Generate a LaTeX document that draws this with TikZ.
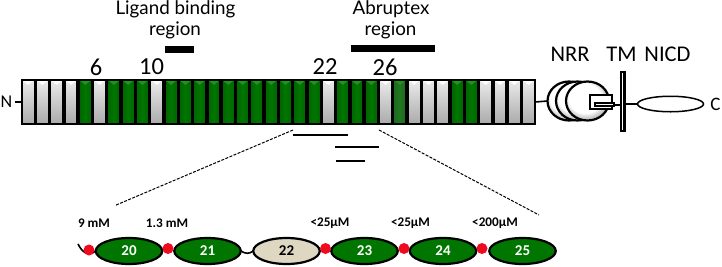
\documentclass[tikz,border=0pt]{standalone}
\usepackage{fontspec}
\setmainfont{Carlito}
\newfontfamily\handfont{Lato}
\usetikzlibrary{shapes.geometric}
\definecolor{egfgreen}{RGB}{0,118,0}
\definecolor{egfdeep}{RGB}{0,100,0}
\definecolor{egflight}{RGB}{30,150,30}
\definecolor{fadegreen}{RGB}{30,105,30}
\definecolor{palegrey}{RGB}{235,235,235}
\definecolor{midgrey}{RGB}{170,170,170}
\definecolor{domainbeige}{RGB}{222,216,195}
\definecolor{caredot}{RGB}{240,10,30}
\pgfdeclareradialshading{lnrshade}{\pgfpoint{-5bp}{6bp}}{color(0bp)=(white); color(19bp)=(white); color(25bp)=(gray!45); color(50bp)=(gray!70)}
\tikzset{
  repeatbar/.style={draw=black,line width=1.7pt,minimum width=12.6pt,minimum height=44.3pt,inner sep=0pt,outer sep=0pt},
  greenbar/.style={repeatbar,left color=egfdeep,right color=egfdeep,middle color=egfgreen,
    path picture={\fill[egflight] (path picture bounding box.north west) -- (path picture bounding box.north east) -- ([yshift=-5pt]path picture bounding box.north) -- cycle;}},
  fadebar/.style={repeatbar,left color=fadegreen,right color=fadegreen,middle color=egfgreen!75!gray,
    path picture={\fill[egflight] (path picture bounding box.north west) -- (path picture bounding box.north east) -- ([yshift=-5pt]path picture bounding box.north) -- cycle;}},
  greybar/.style={repeatbar,top color=palegrey,bottom color=midgrey,
    path picture={\fill[white] (path picture bounding box.north west) -- (path picture bounding box.north east) -- ([yshift=-5pt]path picture bounding box.north) -- cycle;}},
  hand/.style={font=\handfont\fontsize{18.8}{20}\selectfont,inner sep=0pt},
  repeatno/.style={font=\fontsize{24.5}{26}\selectfont,inner sep=0pt},
  domainname/.style={font=\fontsize{22.5}{24}\selectfont,inner sep=0pt},
  conc/.style={font=\bfseries\fontsize{13.2}{15}\selectfont,inner sep=0pt},
  regionbar/.style={fill=black,draw=none,inner sep=0pt,outer sep=0pt},
  repeatoval/.style={ellipse,draw=black,line width=2.2pt,minimum width=66.5pt,minimum height=26pt,inner sep=0pt,outer sep=0pt,font=\bfseries\fontsize{15}{17}\selectfont},
  greenoval/.style={repeatoval,fill=egfgreen,text=white},
  beigeoval/.style={repeatoval,fill=domainbeige,text=black},
  cadot/.style={circle,fill=caredot,draw=none,minimum size=11pt,inner sep=0pt},
  lnr/.style={ellipse,draw=black,line width=2.2pt,minimum width=43pt,minimum height=39pt,inner sep=0pt,outer sep=0pt,shading=lnrshade},
  link/.style={line width=1.6pt,draw=black},
  zoomguide/.style={line width=1pt,dash pattern=on 3pt off 1.4pt},
}
\begin{document}
\begin{tikzpicture}[x=1pt,y=-1pt]
\useasboundingbox (0,0) rectangle (722,266);

% EGF-like repeats
\foreach \i/\kind in {0/greybar,1/greybar,2/greybar,3/greybar,4/greenbar,5/greybar,6/greenbar,7/greenbar,8/greenbar,9/greybar,
  10/greenbar,11/greenbar,12/greenbar,13/greenbar,14/greenbar,15/greenbar,16/greenbar,17/greenbar,18/greenbar,19/greenbar,20/greenbar,
  21/greybar,22/greenbar,23/greenbar,24/greenbar,25/greybar,26/fadebar,27/greybar,28/greybar,29/greybar,30/greenbar,31/greenbar,
  32/greybar,33/greybar,34/greybar,35/greybar}
  \node[\kind] (bar\i) at ({28.1+14.3*\i},102) {};

% Terminal labels
\node[font=\fontsize{18}{20}\selectfont,inner sep=0pt] (nterm) at (6.5,101.5) {N};
\coordinate (nstub) at (15,102);
\draw[link] (nstub) -- (bar0.west);
\node[font=\fontsize{19}{21}\selectfont,inner sep=0pt] (cterm) at (715.5,104) {C};

% Repeat numbers
\node[repeatno] (n6) at (96,67) {6};
\node[repeatno] (n10) at (151.5,67) {10};
\node[repeatno] (n22) at (325,67) {22};
\node[repeatno] (n26) at (385,67) {26};

% Named regions
\node[hand] (lig1) at (175.5,9) {Ligand binding};
\node[hand] (lig2) at (175,30) {region};
\node[regionbar,minimum width=29pt,minimum height=7.5pt] (ligbar) at (179.5,49.5) {};
\node[hand] (abr1) at (391,9) {Abruptex};
\node[hand] (abr2) at (390.5,30) {region};
\node[regionbar,minimum width=84pt,minimum height=7.5pt] (abrbar) at (393,48.5) {};

% Negative regulatory region, transmembrane segment, intracellular domain
\node[lnr] (lnrA) at (569,101) {};
\node[lnr] (lnrB) at (577.5,101) {};
\node[lnr] (lnrC) at (587.5,101) {};
\draw[link] (bar35.east) -- (lnrA.west);
\node[draw=black,fill=white,line width=2.2pt,minimum width=22pt,minimum height=14pt,inner sep=0pt,anchor=west] (notch) at (588.5,102) {};
\node[draw=black,fill=white,line width=1.9pt,minimum width=19pt,minimum height=3.5pt,inner sep=0pt,anchor=west] (tongue) at (594,104.5) {};
\node[draw=black,fill=white,line width=2.2pt,minimum width=3.5pt,minimum height=59pt,inner sep=0pt] (tm) at (622.7,101.3) {};
\node[ellipse,draw=black,fill=white,line width=1.5pt,minimum width=66pt,minimum height=15.5pt,inner sep=0pt,outer sep=0pt] (nicd) at (670.5,104) {};
\draw[line width=2pt] (tongue.east) -- (tongue.east -| tm.west);
\draw[line width=2pt] (tm.east |- nicd.west) -- (nicd.west);
\node[domainname] (nrr) at (570,54) {NRR};
\node[domainname] (tml) at (621.5,54) {TM};
\node[domainname] (nic) at (667.5,54) {NICD};

% Stepped lines under the repeats
\coordinate (s1a) at (293,135); \coordinate (s1b) at (347.5,135);
\coordinate (s2a) at (335,147); \coordinate (s2b) at (379,147);
\coordinate (s3a) at (336,161); \coordinate (s3b) at (364.5,161);
\draw[link] (s1a) -- (s1b);
\draw[link] (s2a) -- (s2b);
\draw[link] (s3a) -- (s3b);

% Guides down to the enlarged repeats
\coordinate (gl1) at (293,130); \coordinate (gl2) at (115,205.5);
\coordinate (gr1) at (379,130); \coordinate (gr2) at (539,215);
\draw[zoomguide] (gl1) -- (gl2);
\draw[zoomguide] (gr1) -- (gr2);

% Enlarged repeats 20-25
\coordinate (tail) at (78,244);
\node[greenoval] (e20) at (129,251) {20};
\node[greenoval] (e21) at (207.5,251) {21};
\node[beigeoval] (e22) at (286.5,251) {22};
\node[greenoval] (e23) at (364.5,251) {23};
\node[greenoval] (e24) at (443,251) {24};
\node[greenoval] (e25) at (522.5,251) {25};
\draw[link] (tail) .. controls (82,252) and (88,257) .. (e20.west);
\draw[link] (e21.east) .. controls (246,254) and (249,254) .. (e22.west);
\node[cadot] (ca0) at (89,250) {};
\node[cadot] (ca1) at (168,248.5) {};
\node[cadot] (ca2) at (325.5,248.5) {};
\node[cadot] (ca3) at (404,248.5) {};
\node[cadot] (ca4) at (482,248.5) {};

% Calcium affinities
\node[conc] (k0) at (94,223) {9 mM};
\node[conc] (k1) at (167,223) {1.3 mM};
\node[conc] (k2) at (330,223) {<25µM};
\node[conc] (k3) at (410.5,223) {<25µM};
\node[conc] (k4) at (495,223.5) {<200µM};
\end{tikzpicture}
\end{document}
